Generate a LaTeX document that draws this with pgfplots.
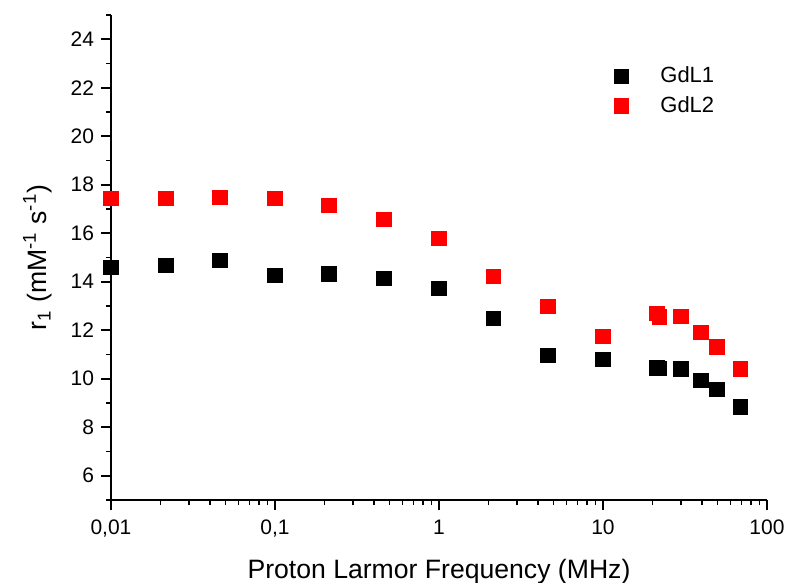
\documentclass[border=0pt]{standalone}
\usepackage{pgfplots}
\pgfplotsset{compat=1.18}
\usepackage{fontspec}
\setmainfont{Liberation Sans}
\definecolor{gdred}{RGB}{255,0,0}

\begin{document}
\begin{tikzpicture}
\useasboundingbox (-55.5pt,-41.5pt) rectangle (338pt,250pt);
\begin{axis}[
    scale only axis,
    width=328pt,
    height=242.5pt,
    xmode=log,
    xmin=0.01, xmax=100,
    ymin=5, ymax=25,
    axis lines*=left,
    axis line style={line width=0.9pt},
    tick style={line width=0.8pt, black},
    tick align=outside,
    major tick length=5pt,
    minor tick length=2.6pt,
    xtick={0.01,0.1,1,10,100},
    xticklabels={{0,01},{0,1},1,10,100},
    ytick={6,8,...,24},
    minor ytick={5,7,...,25},
    /pgf/number format/assume math mode=true,
    tick label style={font=\fontsize{10.5}{12}\selectfont},
    x tick label style={yshift=-1.5pt},
    xlabel={Proton Larmor Frequency (MHz)},
    ylabel={r\textsubscript{1} (mM\textsuperscript{-1} s\textsuperscript{-1})},
    label style={font=\fontsize{13.3}{15}\selectfont},
    x label style={at={(axis description cs:0.5,-0.148)}, anchor=center},
    y label style={at={(axis description cs:-0.112,0.5)}, anchor=center},
    legend style={draw=none, fill=none, at={(0.757,0.91)}, anchor=north west,
        font=\fontsize{11}{12.5}\selectfont, row sep=1.2pt},
    legend cell align=left,
    legend image code/.code={\draw[#1] plot coordinates {(0.3cm,0cm)};},
    mark size=3.6pt,
]
\addplot[only marks, mark=square*, black, mark options={draw=black, fill=black}] coordinates {
    (0.01,14.6) (0.0216,14.67) (0.0462,14.88) (0.1,14.26) (0.213,14.32)
    (0.462,14.13) (1,13.72) (2.14,12.48) (4.62,10.97) (10,10.79)
    (21.3,10.45) (22,10.42) (29.9,10.4) (39.6,9.92) (49.6,9.55) (69,8.84)
};
\addlegendentry{\hspace{14pt}GdL1}
\addplot[only marks, mark=square*, gdred, mark options={draw=gdred, fill=gdred}] coordinates {
    (0.01,17.44) (0.0216,17.44) (0.0462,17.48) (0.1,17.44) (0.213,17.15)
    (0.462,16.57) (1,15.79) (2.14,14.21) (4.62,12.98) (10,11.74)
    (21.3,12.7) (22,12.55) (29.9,12.56) (39.6,11.9) (49.6,11.32) (69,10.41)
};
\addlegendentry{\hspace{14pt}GdL2}
\end{axis}
\end{tikzpicture}
\end{document}
